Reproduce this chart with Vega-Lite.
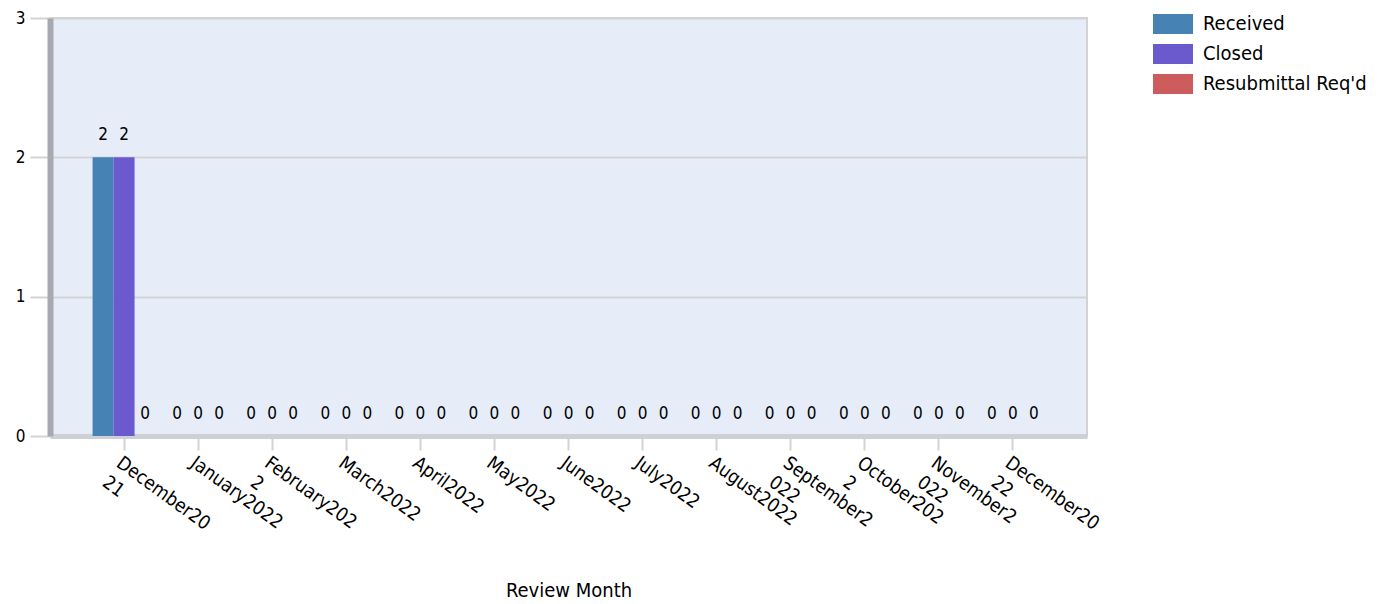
{
  "$schema": "https://vega.github.io/schema/vega-lite/v6.json",
  "width": 1037,
  "height": 418,
  "autosize": {"type": "none"},
  "padding": {"left": 50, "top": 18, "right": 300, "bottom": 168},
  "background": "white",
  "config": {
    "font": "DejaVu Sans Condensed",
    "view": {"fill": "#e6edf9", "stroke": "#d3d3d3", "strokeWidth": 2}
  },
  "data": {
    "values": [
      {"month": "December2021", "series": "Received", "count": 2},
      {"month": "December2021", "series": "Closed", "count": 2},
      {"month": "December2021", "series": "Resubmittal Req'd", "count": 0},
      {"month": "January2022", "series": "Received", "count": 0},
      {"month": "January2022", "series": "Closed", "count": 0},
      {"month": "January2022", "series": "Resubmittal Req'd", "count": 0},
      {"month": "February2022", "series": "Received", "count": 0},
      {"month": "February2022", "series": "Closed", "count": 0},
      {"month": "February2022", "series": "Resubmittal Req'd", "count": 0},
      {"month": "March2022", "series": "Received", "count": 0},
      {"month": "March2022", "series": "Closed", "count": 0},
      {"month": "March2022", "series": "Resubmittal Req'd", "count": 0},
      {"month": "April2022", "series": "Received", "count": 0},
      {"month": "April2022", "series": "Closed", "count": 0},
      {"month": "April2022", "series": "Resubmittal Req'd", "count": 0},
      {"month": "May2022", "series": "Received", "count": 0},
      {"month": "May2022", "series": "Closed", "count": 0},
      {"month": "May2022", "series": "Resubmittal Req'd", "count": 0},
      {"month": "June2022", "series": "Received", "count": 0},
      {"month": "June2022", "series": "Closed", "count": 0},
      {"month": "June2022", "series": "Resubmittal Req'd", "count": 0},
      {"month": "July2022", "series": "Received", "count": 0},
      {"month": "July2022", "series": "Closed", "count": 0},
      {"month": "July2022", "series": "Resubmittal Req'd", "count": 0},
      {"month": "August2022", "series": "Received", "count": 0},
      {"month": "August2022", "series": "Closed", "count": 0},
      {"month": "August2022", "series": "Resubmittal Req'd", "count": 0},
      {"month": "September2022", "series": "Received", "count": 0},
      {"month": "September2022", "series": "Closed", "count": 0},
      {"month": "September2022", "series": "Resubmittal Req'd", "count": 0},
      {"month": "October2022", "series": "Received", "count": 0},
      {"month": "October2022", "series": "Closed", "count": 0},
      {"month": "October2022", "series": "Resubmittal Req'd", "count": 0},
      {"month": "November2022", "series": "Received", "count": 0},
      {"month": "November2022", "series": "Closed", "count": 0},
      {"month": "November2022", "series": "Resubmittal Req'd", "count": 0},
      {"month": "December2022", "series": "Received", "count": 0},
      {"month": "December2022", "series": "Closed", "count": 0},
      {"month": "December2022", "series": "Resubmittal Req'd", "count": 0}
    ]
  },
  "encoding": {
    "x": {
      "field": "month",
      "type": "nominal",
      "sort": null,
      "scale": {"paddingInner": 0.15, "paddingOuter": 0.575},
      "axis": {
        "title": "Review Month",
        "titleFontSize": 20,
        "titleFontWeight": "normal",
        "titleColor": "black",
        "titleBaseline": "middle",
        "titleY": 154,
        "labelAngle": 36,
        "labelAlign": "left",
        "labelBaseline": "top",
        "labelFontSize": 19,
        "labelColor": "black",
        "labelLineHeight": 24,
        "labelPadding": 3,
        "labelOverlap": false,
        "labelExpr": "datum.value == 'December2021' ? ['December20','21'] : datum.value == 'February2022' ? ['February202','2'] : datum.value == 'September2022' ? ['September2','022'] : datum.value == 'October2022' ? ['October202','2'] : datum.value == 'November2022' ? ['November2','022'] : datum.value == 'December2022' ? ['December20','22'] : datum.label",
        "tickSize": 14,
        "tickColor": "#d3d3d3",
        "tickWidth": 2,
        "domainColor": "#cfd0d6",
        "domainWidth": 5
      }
    },
    "xOffset": {
      "field": "series",
      "type": "nominal",
      "sort": ["Received", "Closed", "Resubmittal Req'd"],
      "scale": {"paddingInner": 0, "paddingOuter": 0}
    },
    "y": {
      "field": "count",
      "type": "quantitative",
      "scale": {"domain": [0, 3], "nice": false},
      "axis": {
        "title": null,
        "values": [0, 1, 2, 3],
        "format": "d",
        "grid": true,
        "gridColor": "#d3d3d3",
        "gridWidth": 2,
        "tickSize": 20,
        "tickColor": "#d3d3d3",
        "tickWidth": 2,
        "labelFontSize": 17,
        "labelColor": "black",
        "labelPadding": 5,
        "domainColor": "#a8a9b0",
        "domainWidth": 6
      }
    }
  },
  "layer": [
    {
      "mark": {"type": "bar"},
      "encoding": {
        "color": {
          "field": "series",
          "type": "nominal",
          "scale": {
            "domain": ["Received", "Closed", "Resubmittal Req'd"],
            "range": ["#4682b4", "#6a5acd", "#cd5c5c"]
          },
          "legend": {
            "title": null,
            "orient": "none",
            "legendX": 1103,
            "legendY": -14,
            "symbolType": "M-1,-0.5H1V0.5H-1Z",
            "symbolSize": 1600,
            "symbolStrokeWidth": 0,
            "symbolOpacity": 1,
            "labelFontSize": 20,
            "labelColor": "black",
            "labelOffset": 10,
            "rowPadding": -11,
            "labelLimit": 300
          }
        }
      }
    },
    {
      "mark": {"type": "text", "baseline": "alphabetic", "dy": -17, "fontSize": 17, "color": "black"},
      "encoding": {
        "text": {"field": "count", "type": "quantitative"}
      }
    }
  ]
}
